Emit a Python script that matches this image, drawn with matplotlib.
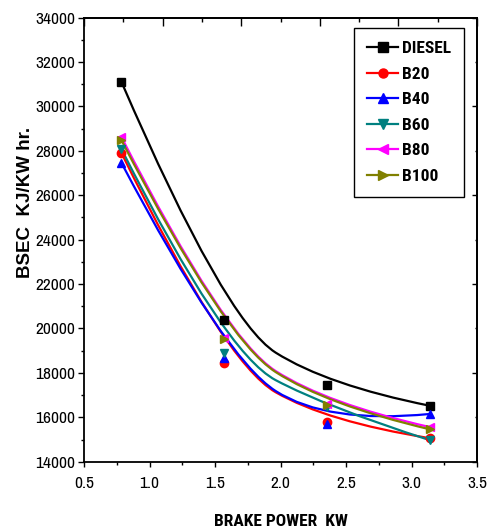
import matplotlib
matplotlib.use('Agg')
import matplotlib.pyplot as plt
from matplotlib.path import Path
from matplotlib.patches import PathPatch
from matplotlib.lines import Line2D
from matplotlib.ticker import MultipleLocator, FixedLocator, NullFormatter, FormatStrFormatter

plt.rcParams['font.family'] = ['Archivo Narrow', 'Roboto Condensed', 'Liberation Sans', 'DejaVu Sans']
BOLD_FAMILY = ['Roboto Condensed', 'Liberation Sans', 'DejaVu Sans']

# brake power (kW) and BSEC (kJ/kW hr)
brake_power = [0.785, 1.57, 2.355, 3.14]
diesel = [31120, 20380, 17450, 16520]
b20 = [27920, 18460, 15800, 15060]
b40 = [27470, 18670, 15700, 16150]
b60 = [28090, 18900, 16450, 14970]
b80 = [28630, 19570, 16600, 15560]
b100 = [28490, 19530, 16550, 15460]

labels = ['DIESEL', 'B20', 'B40', 'B60', 'B80', 'B100']
series = [diesel, b20, b40, b60, b80, b100]
colors = ['#000000', '#ff0000', '#0000ff', '#008080', '#ff00ff', '#808000']
markers = ['s', 'o', '^', 'v', '<', '>']


def bspline_path(xs, ys):
    # quadratic B-spline on the 4 points (ends clamped), as two quadratic pieces
    mx = (xs[1] + xs[2]) / 2
    my = (ys[1] + ys[2]) / 2
    verts = [(xs[0], ys[0]), (xs[1], ys[1]), (mx, my), (xs[2], ys[2]), (xs[3], ys[3])]
    codes = [Path.MOVETO, Path.CURVE3, Path.CURVE3, Path.CURVE3, Path.CURVE3]
    return Path(verts, codes)


fig = plt.figure(figsize=(4.89, 5.31), dpi=100)
ax = fig.add_axes([0.1718, 0.1305, 0.8037, 0.8362])

handles = []
for lab, ys, c, m in zip(labels, series, colors, markers):
    ax.add_patch(PathPatch(bspline_path(brake_power, ys), facecolor='none',
                           edgecolor=c, lw=1.6, zorder=2))
    ax.plot(brake_power, ys, ls='none', marker=m, color=c, markersize=6, zorder=3)
    handles.append(Line2D([], [], color=c, marker=m, lw=1.6, markersize=6.5))

ax.set_xlim(0.5, 3.5)
ax.set_ylim(14000, 34000)
ax.xaxis.set_major_locator(MultipleLocator(0.5))
ax.xaxis.set_minor_locator(MultipleLocator(0.25))
ax.yaxis.set_major_locator(MultipleLocator(2000))
ax.yaxis.set_minor_locator(MultipleLocator(1000))
ax.xaxis.set_major_formatter(FormatStrFormatter('%.1f'))

ax.tick_params(which='major', direction='out', length=4.5, width=1, labelsize=12.5,
               top=False, right=False)
ax.tick_params(which='minor', direction='out', length=2.5, width=1, top=False, right=False)
ax.tick_params(axis='x', which='major', length=3.5, pad=7)
ax.tick_params(axis='y', which='major', pad=2)

for s in ax.spines.values():
    s.set_linewidth(1.3)

# top and right axes with their own tick marks, no labels
top = ax.secondary_xaxis('top')
top.xaxis.set_major_locator(FixedLocator([0.5, 1.1, 1.7, 2.3, 2.9, 3.5]))
top.xaxis.set_minor_locator(FixedLocator([0.8, 1.4, 2.0, 2.6, 3.2]))
top.xaxis.set_major_formatter(NullFormatter())
top.tick_params(which='major', direction='in', length=5.5, width=1)
top.tick_params(which='minor', direction='in', length=3, width=1)
top.spines['top'].set_linewidth(1.3)

right = ax.secondary_yaxis('right')
right.yaxis.set_major_locator(FixedLocator([14000, 18000, 22000, 26000, 30000, 34000]))
right.yaxis.set_minor_locator(FixedLocator([16000, 20000, 24000, 28000, 32000]))
right.yaxis.set_major_formatter(NullFormatter())
right.tick_params(which='major', direction='in', length=3.5, width=1)
right.tick_params(which='minor', direction='in', length=1.5, width=1)
right.spines['right'].set_linewidth(1.3)

ax.set_xlabel('BRAKE POWER  KW', fontsize=12.5, fontweight='bold', family=BOLD_FAMILY,
              labelpad=16)
ax.set_ylabel('BSEC  KJ/KW hr.', fontsize=13.5, fontweight='bold',
              family=['Liberation Sans', 'DejaVu Sans'])
ax.yaxis.set_label_coords(-0.127, 0.583)

leg = ax.legend(handles, labels, loc='upper right', bbox_to_anchor=(0.967, 0.977),
                borderaxespad=0, fancybox=False, edgecolor='black', framealpha=1,
                prop={'weight': 'bold', 'size': 12.5, 'family': BOLD_FAMILY},
                handlelength=1.8, handletextpad=0.2, labelspacing=0.6, borderpad=0.75,
                numpoints=1)
leg.get_frame().set_linewidth(1.0)

fig.savefig('out.png', dpi=100)
